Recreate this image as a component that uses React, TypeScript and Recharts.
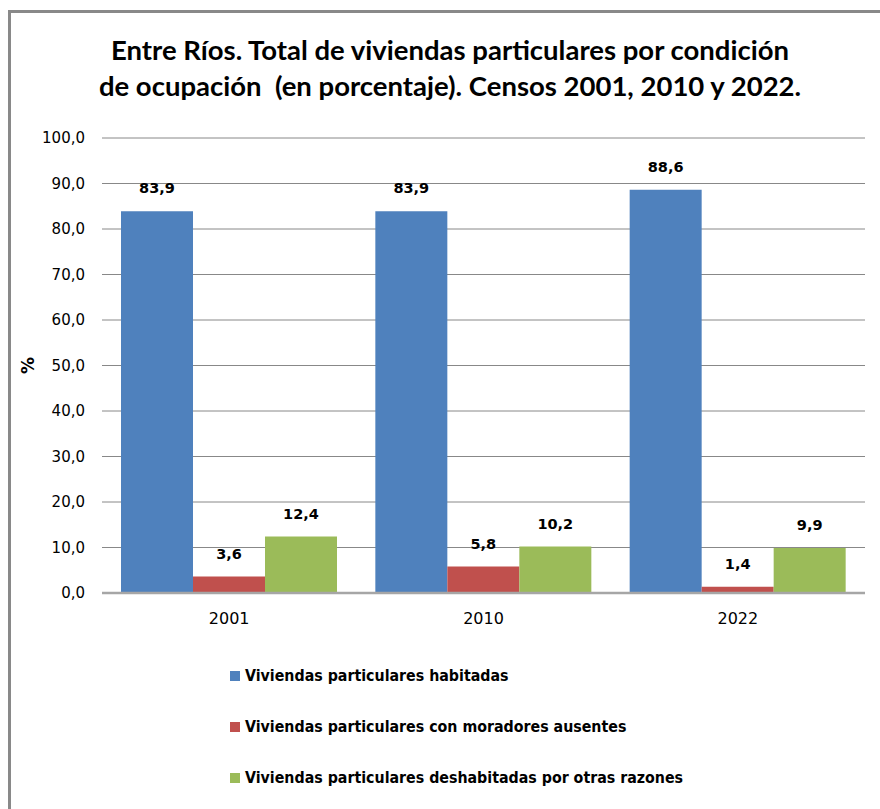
import React from 'react';
import { BarChart, Bar, XAxis, YAxis, CartesianGrid, LabelList } from 'recharts';

const years = ['2001', '2010', '2022'];
const habitadas = [83.9, 83.9, 88.6];
const ausentes = [3.6, 5.8, 1.4];
const deshabitadas = [12.4, 10.2, 9.9];
const yTicks = [0, 10, 20, 30, 40, 50, 60, 70, 80, 90, 100];

const series = [
  { key: 'habitadas', name: 'Viviendas particulares habitadas', color: '#4F81BD' },
  { key: 'ausentes', name: 'Viviendas particulares con moradores ausentes', color: '#C0504D' },
  { key: 'deshabitadas', name: 'Viviendas particulares deshabitadas por otras razones', color: '#9BBB59' },
];

const data = years.map((year, i) => ({
  year,
  habitadas: habitadas[i],
  ausentes: ausentes[i],
  deshabitadas: deshabitadas[i],
}));

const fmt = (v: any) => Number(v).toFixed(1).replace('.', ',');

const tickFont = { fontFamily: 'DejaVu Sans, Verdana, sans-serif', fontSize: 15, fill: '#000' };

export default function App() {
  return (
    <div
      style={{
        position: 'absolute',
        left: 8,
        top: 10,
        width: 872,
        height: 799,
        borderLeft: '3px solid #898989',
        borderTop: '3px solid #898989',
        boxSizing: 'border-box',
        background: '#fff',
        overflow: 'hidden',
      }}
    >
      {/* titulo */}
      <div
        style={{
          position: 'absolute',
          left: 0,
          top: 19,
          width: 878,
          textAlign: 'center',
          fontFamily: 'Lato, sans-serif',
          fontWeight: 'bold',
          fontSize: 27.5,
          lineHeight: '36px',
          color: '#000',
          whiteSpace: 'pre',
        }}
      >
        {'Entre Ríos. Total de viviendas particulares por condición\nde ocupación  (en porcentaje). Censos 2001, 2010 y 2022.'}
      </div>

      <div style={{ position: 'absolute', left: 0, top: 107 }}>
        <BarChart
          width={869}
          height={520}
          data={data}
          margin={{ top: 18, right: 15, left: 0, bottom: 17 }}
          barGap={0}
        >
          <CartesianGrid vertical={false} stroke="#888" />
          <XAxis
            dataKey="year"
            height={30}
            tickLine={false}
            axisLine={{ stroke: '#a6a6a6', strokeWidth: 2.5 }}
            tickMargin={14}
            tick={{ ...tickFont, fontSize: 16 }}
          />
          <YAxis
            width={91}
            domain={[0, 100]}
            ticks={yTicks}
            interval={0}
            tickFormatter={fmt}
            tickLine={false}
            axisLine={false}
            tickMargin={11}
            tick={tickFont}
            label={{
              value: '%',
              angle: -90,
              position: 'center',
              dx: -29,
              style: { fontFamily: 'DejaVu Sans, sans-serif', fontWeight: 'bold', fontSize: 17, fill: '#000' },
            }}
          />
          {series.map((s) => (
            <Bar key={s.key} dataKey={s.key} name={s.name} fill={s.color} barSize={72} isAnimationActive={false}>
              <LabelList
                dataKey={s.key}
                position="top"
                offset={18}
                formatter={fmt}
                style={{ fontFamily: 'DejaVu Sans, sans-serif', fontWeight: 'bold', fontSize: 14.5, fill: '#000' }}
              />
            </Bar>
          ))}
        </BarChart>
      </div>

      {/* leyenda */}
      <div style={{ position: 'absolute', left: 219, top: 637 }}>
        {series.map((s) => (
          <div key={s.key} style={{ display: 'flex', alignItems: 'center', height: 51 }}>
            <div style={{ width: 10, height: 10, backgroundColor: s.color, marginRight: 5 }} />
            <span
              style={{
                fontFamily: '"DejaVu Sans Condensed", "DejaVu Sans", sans-serif',
                fontStretch: 'condensed',
                fontWeight: 'bold',
                fontSize: 15.8,
                color: '#000',
                whiteSpace: 'nowrap',
              }}
            >
              {s.name}
            </span>
          </div>
        ))}
      </div>
    </div>
  );
}
